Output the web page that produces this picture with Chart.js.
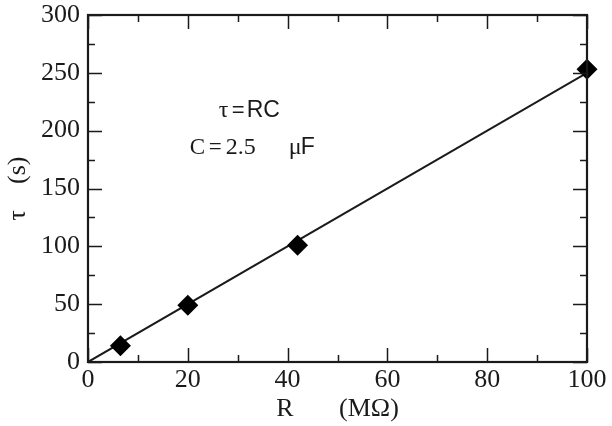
<!DOCTYPE html>
<html>
<head>
<meta charset="utf-8">
<script src="https://cdn.jsdelivr.net/npm/chart.js@4/dist/chart.umd.min.js"></script>
<style>
	html, body { margin:0; padding:0; background:#fff; }
	#wrap { width:612px; height:426px; }
</style>
</head>
<body>
<div id="wrap"><canvas id="c" width="612" height="426"></canvas></div>
<script>
// measured points, R in MOhm, tau in s
var rValues   = [6.5, 20, 42, 100];
var tauValues = [14, 49, 101, 253];
// fit line tau = R*C
var fitR   = [0, 100];
var fitTau = [0, 250];
// ticks
var xMajor = [0, 20, 40, 60, 80, 100];
var xMinor = [10, 30, 50, 70, 90];
var yMajor = [0, 50, 100, 150, 200, 250, 300];
var yMinor = [25, 75, 125, 175, 225, 275];

var SERIF = '"Liberation Serif", "DejaVu Serif", serif',
	SANS  = '"Liberation Sans", Arial, sans-serif',
	INK   = '#1a1a1a';

function pairs(xs, ys){
	var out = [];
	for(var i = 0; i < xs.length; i++) out.push({ x: xs[i], y: ys[i] });
	return out;
}

// inward ticks on all four sides + frame + the annotation
var framePlugin = {
	id: 'frame',
	afterDatasetsDraw: function(chart){
		var ctx = chart.ctx, a = chart.chartArea,
			xs = chart.scales.x, ys = chart.scales.y,
			big = 14, small = 7, i, p;
		ctx.save();
		ctx.strokeStyle = INK;
		ctx.lineWidth = 1.5;
		ctx.beginPath();
		function xt(list, len){
			for(i = 0; i < list.length; i++){
				p = Math.round(xs.getPixelForValue(list[i])) + 0.5;
				ctx.moveTo(p, a.bottom); ctx.lineTo(p, a.bottom - len);
				ctx.moveTo(p, a.top);    ctx.lineTo(p, a.top + len);
			}
		}
		function yt(list, len){
			for(i = 0; i < list.length; i++){
				p = Math.round(ys.getPixelForValue(list[i])) + 0.5;
				ctx.moveTo(a.left, p);  ctx.lineTo(a.left + len, p);
				ctx.moveTo(a.right, p); ctx.lineTo(a.right - len, p);
			}
		}
		xt(xMajor, big); xt(xMinor, small);
		yt(yMajor, big); yt(yMinor, small);
		ctx.stroke();
		ctx.lineWidth = 2.2;
		ctx.strokeRect(a.left, a.top, a.right - a.left, a.bottom - a.top);

		// annotation text, anchored in data space
		ctx.fillStyle = INK;
		ctx.textBaseline = 'middle';
		ctx.textAlign = 'left';
		var x0 = xs.getPixelForValue(26.2), y0 = ys.getPixelForValue(217);
		ctx.font = '24px ' + SERIF;
		ctx.fillText('\u03c4', x0, y0);
		ctx.font = '22px ' + SANS;
		ctx.fillText('=', x0 + 13, y0);
		ctx.font = '23px ' + SANS;
		ctx.fillText('RC', x0 + 28, y0);

		var x1 = xs.getPixelForValue(20.4), y1 = ys.getPixelForValue(185);
		ctx.font = '23px ' + SERIF;
		ctx.fillText('C', x1, y1);
		ctx.fillText('=', x1 + 19, y1);
		ctx.font = '24px ' + SERIF;
		ctx.fillText('2.5', x1 + 36, y1);
		ctx.fillText('\u03bc', x1 + 99, y1);
		ctx.font = '23px ' + SANS;
		ctx.fillText('F', x1 + 111, y1);
		ctx.restore();
	}
};

new Chart(document.getElementById('c').getContext('2d'), {
	type: 'scatter',
	data: {
		datasets: [
			{
				label: 'data',
				data: pairs(rValues, tauValues),
				pointStyle: 'rectRot',
				pointRadius: 10.5,
				backgroundColor: '#000',
				borderColor: '#000',
				borderWidth: 0,
				showLine: false,
				clip: false,
				order: 0
			},
			{
				label: 'fit',
				data: pairs(fitR, fitTau),
				showLine: true,
				borderColor: INK,
				borderWidth: 2,
				pointRadius: 0,
				order: 1
			}
		]
	},
	options: {
		responsive: false,
		animation: false,
		events: [],
		layout: { padding: { left: 0, top: 15, right: 25, bottom: 0 } },
		plugins: { legend: { display: false }, tooltip: { enabled: false } },
		scales: {
			x: {
				type: 'linear', min: 0, max: 100,
				afterFit: function(s){ s.height = 64; s.paddingLeft = 0; s.paddingRight = 0; },
				grid: { display: false, drawTicks: false },
				border: { display: false },
				ticks: { stepSize: 20, padding: 3, color: INK, maxRotation: 0,
					font: { family: SERIF, size: 26, lineHeight: 1.2 } },
				title: { display: true, text: 'R       (M\u03a9)', color: INK,
					padding: { top: 0, bottom: 1 },
					font: { family: SERIF, size: 26, lineHeight: 1.2 } }
			},
			y: {
				type: 'linear', min: 0, max: 300,
				afterFit: function(s){ s.width = 88; s.paddingTop = 0; s.paddingBottom = 0; },
				grid: { display: false, drawTicks: false },
				border: { display: false },
				ticks: { stepSize: 50, padding: 8, color: INK,
					font: { family: SERIF, size: 26, lineHeight: 1.2 } },
				title: { display: true, text: '\u03c4    (s)', color: INK,
					padding: { top: 3, bottom: 0 },
					font: { family: SERIF, size: 26, lineHeight: 1.2 } }
			}
		}
	},
	plugins: [framePlugin]
});
</script>
</body>
</html>
